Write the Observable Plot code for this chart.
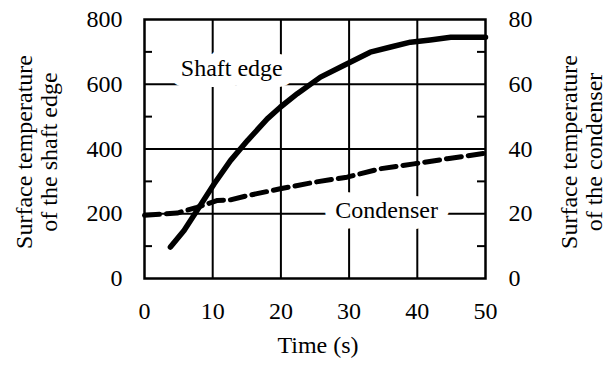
<!DOCTYPE html>
<html>
<head>
<meta charset="utf-8">
<script src="https://cdn.jsdelivr.net/npm/d3@7"></script>
<script src="https://cdn.jsdelivr.net/npm/@observablehq/plot@0.6"></script>
<style>
  html, body { margin: 0; padding: 0; background: #fff; }
</style>
</head>
<body>
<div id="chart"></div>
<script>
// ---- data ----
const shaftTime = [3.8, 5.8, 7.7, 10.2, 12.6, 15.1, 18.0, 19.9, 22.4, 25.8, 29.2, 33.1, 36.1, 39.0, 41.9, 44.9, 50];
const shaftTemp = [97, 148, 210, 292, 364, 426, 493, 529, 571, 622, 658, 699, 715, 730, 737, 745, 745];
const condTime = [0, 4.8, 7.7, 10.7, 12.6, 15.1, 19.9, 24.8, 29.7, 34.6, 39.5, 44.4, 50];
const condTemp = [19.5, 20.2, 22.0, 24.1, 24.3, 25.6, 27.7, 29.7, 31.3, 33.9, 35.4, 37.0, 38.7]; // right-axis units
const xTicks = [0, 10, 20, 30, 40, 50];
const leftTicks = [0, 200, 400, 600, 800];
const rightTicks = [0, 20, 40, 60, 80];
const minorTicks = [100, 300, 500, 700];
const gridX = [10, 20, 30, 40];
const gridY = [200, 400, 600];
const axisRatio = 10; // left units per right unit
const seriesLabels = ["Shaft edge", "Condenser"];
const labelX = [12.8, 35.5];
const labelY = [648, 21.2]; // shaft edge in left units, condenser in right units
const leftTitle = "Surface temperature\nof the shaft edge";
const rightTitle = "Surface temperature\nof the condenser";
const xTitle = "Time (s)";

// ---- tables ----
const shaft = shaftTime.map((t, i) => ({t, v: shaftTemp[i]}));
const cond = condTime.map((t, i) => ({t, v: condTemp[i] * axisRatio}));
const labels = [
  {text: seriesLabels[0], x: labelX[0], y: labelY[0]},
  {text: seriesLabels[1], x: labelX[1], y: labelY[1] * axisRatio}
];

const font = "Liberation Serif";
const chart = Plot.plot({
  width: 609,
  height: 365,
  marginTop: 19,
  marginBottom: 87,
  marginLeft: 144,
  marginRight: 124,
  style: {fontSize: "24px", color: "#000", background: "#fff"},
  x: {domain: [0, 50]},
  y: {domain: [0, 800]},
  marks: [
    Plot.ruleY(gridY, {stroke: "#000", strokeWidth: 2}),
    Plot.ruleX(gridX, {stroke: "#000", strokeWidth: 2}),
    Plot.text(labels, {x: "x", y: "y", text: "text", fontFamily: font, fill: "white", stroke: "white", strokeWidth: 22, strokeLinejoin: "round"}),
    Plot.tickY(minorTicks, {y: d => d, stroke: "#000", strokeWidth: 2, insetRight: 333}),
    Plot.tickY(minorTicks, {y: d => d, stroke: "#000", strokeWidth: 2, insetLeft: 333}),
    Plot.frame({stroke: "#000", strokeWidth: 2.5}),
    Plot.line(cond, {x: "t", y: "v", stroke: "#000", strokeWidth: 5, strokeDasharray: "15,7"}),
    Plot.line(shaft, {x: "t", y: "v", stroke: "#000", strokeWidth: 5.5, strokeLinecap: "round", strokeLinejoin: "round"}),
    Plot.text(labels, {x: "x", y: "y", text: "text", fontFamily: font, fill: "#000"}),
    Plot.axisX({ticks: xTicks, tickSize: 0, tickPadding: 23, label: null, fontFamily: font}),
    Plot.axisY({ticks: leftTicks, anchor: "left", tickSize: 0, tickPadding: 22, label: null, fontFamily: font}),
    Plot.axisY({ticks: leftTicks, anchor: "right", tickSize: 0, tickPadding: 23, label: null, fontFamily: font, tickFormat: d => d / axisRatio}),
    Plot.text([leftTitle], {frameAnchor: "left", textAnchor: "middle", dx: -108, dy: 3, rotate: -90, lineHeight: 1.05, fontFamily: font, fill: "#000"}),
    Plot.text([rightTitle], {frameAnchor: "right", textAnchor: "middle", dx: 96, dy: 3, rotate: -90, lineHeight: 1.05, fontFamily: font, fill: "#000"}),
    Plot.text([xTitle], {frameAnchor: "bottom", dx: 3, dy: 74, fontFamily: font, fill: "#000"})
  ]
});
document.getElementById("chart").appendChild(chart);
</script>
</body>
</html>
